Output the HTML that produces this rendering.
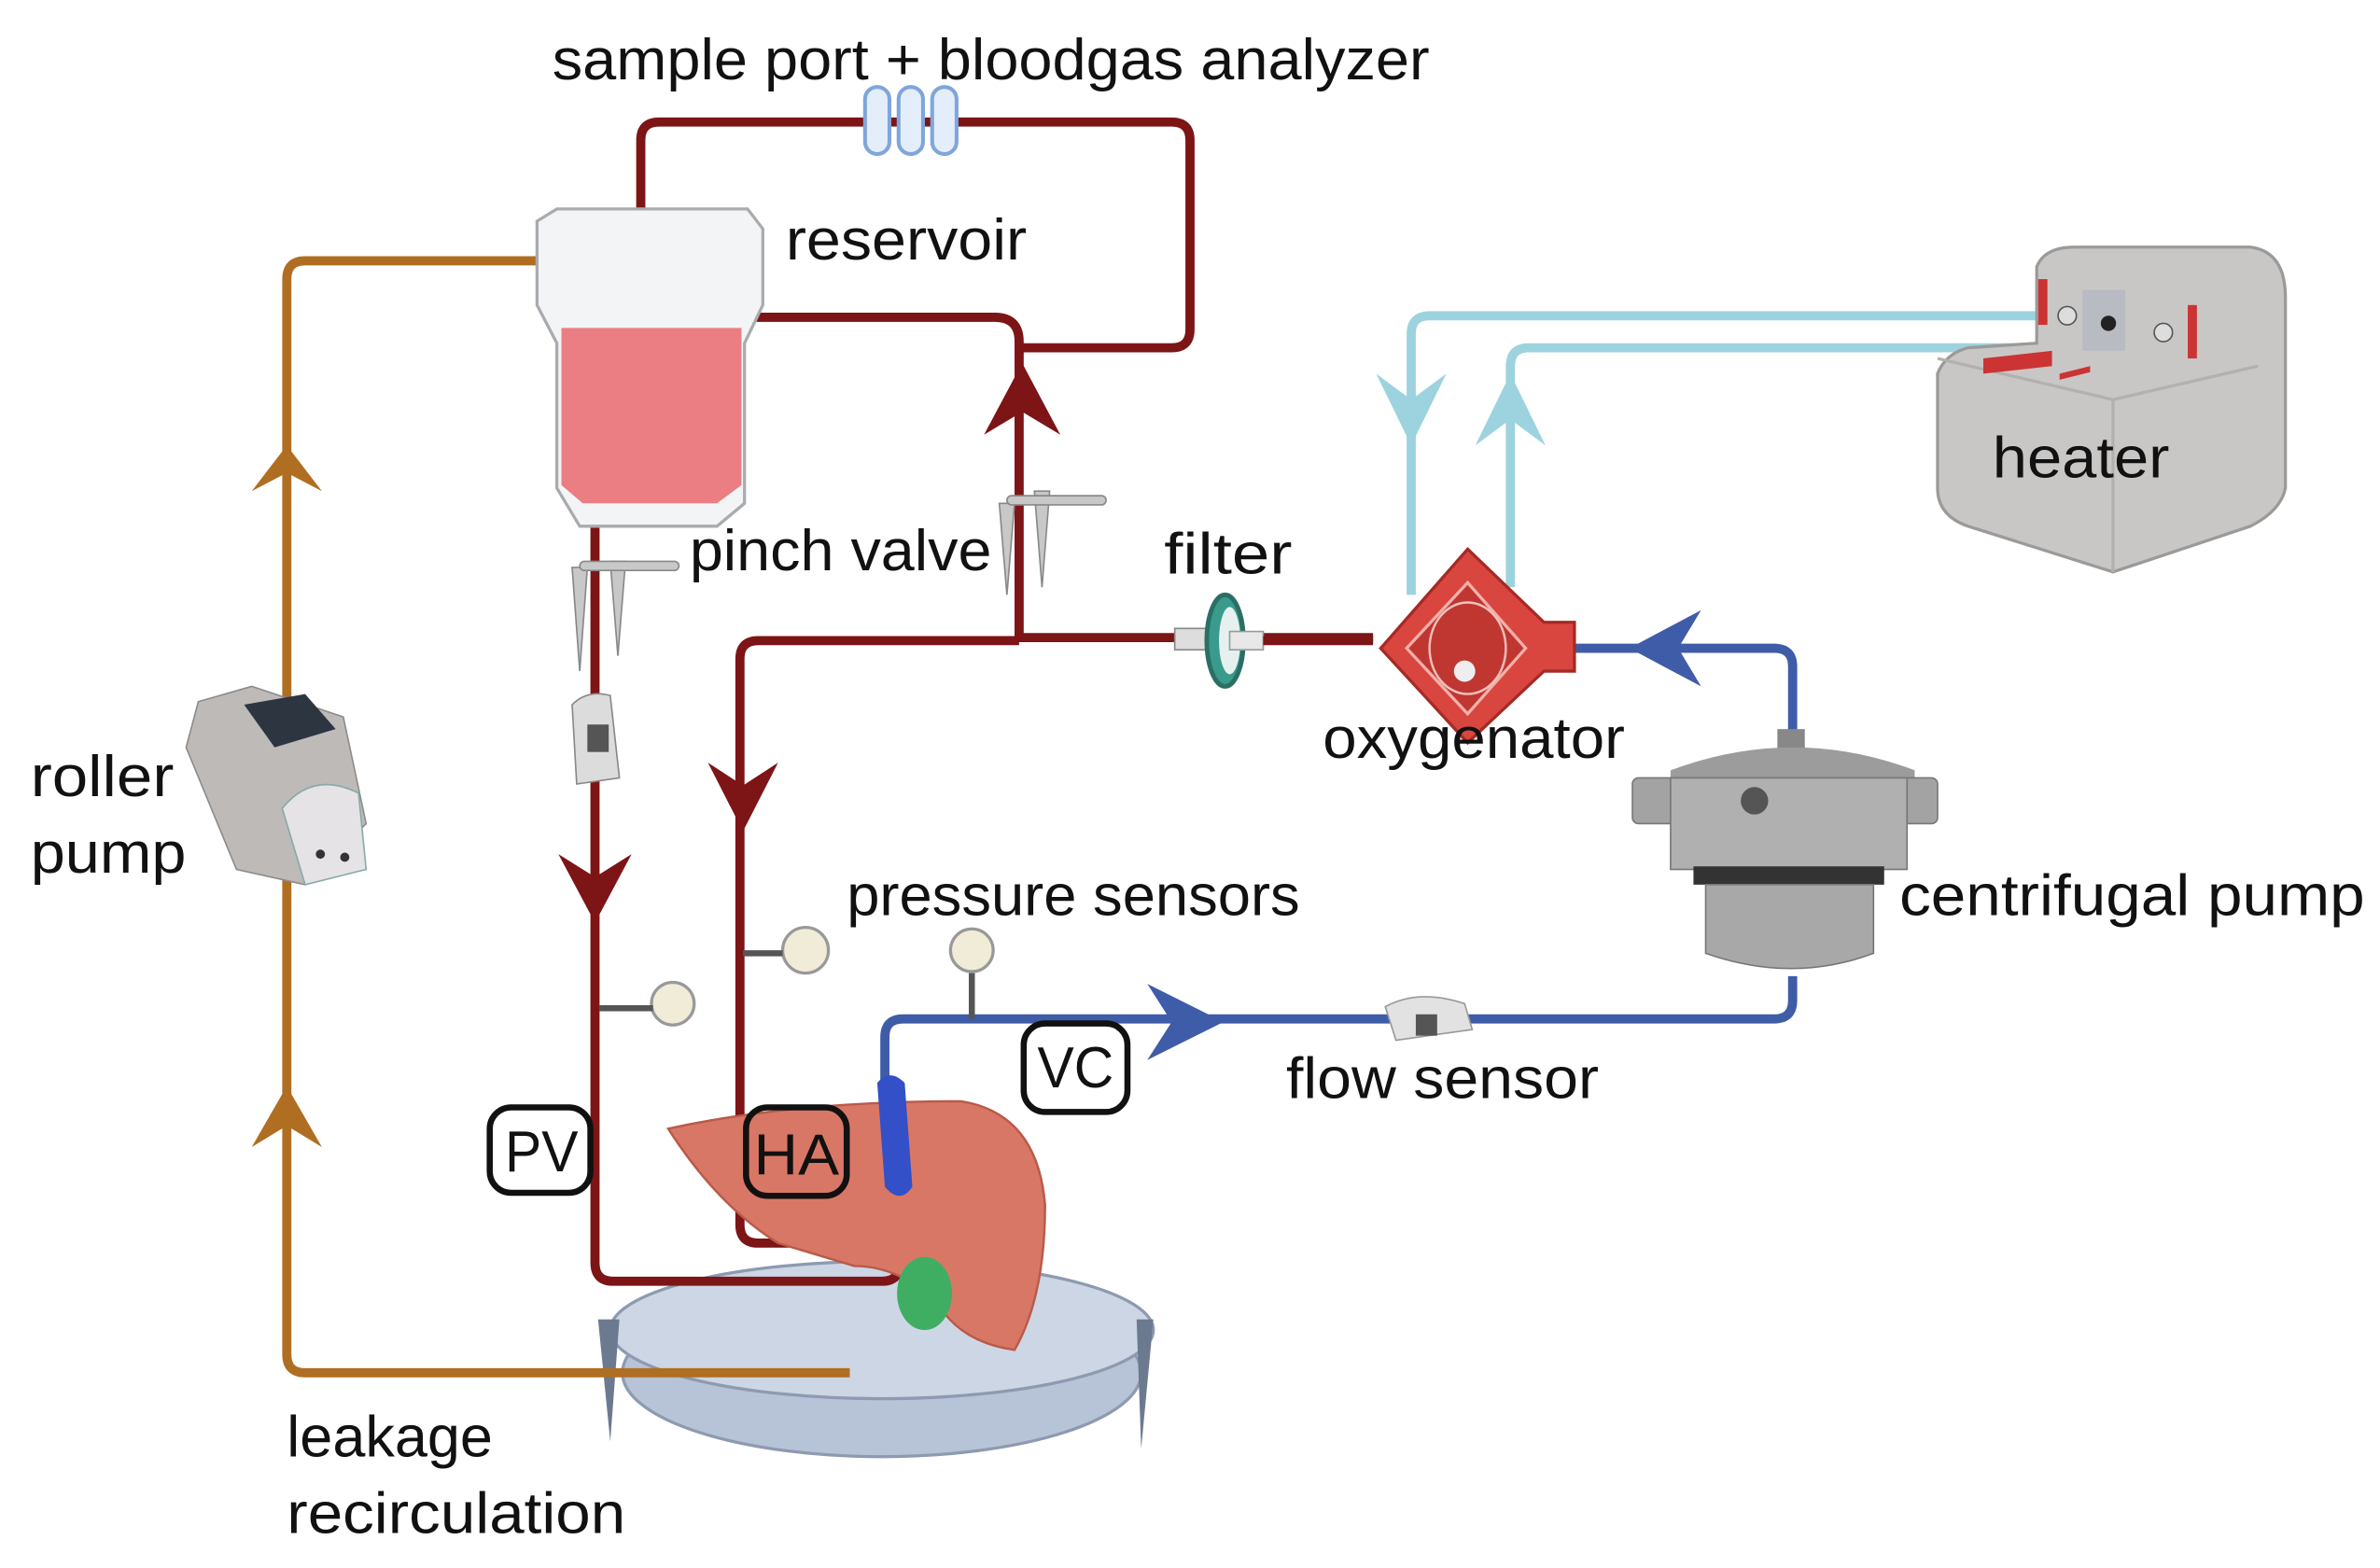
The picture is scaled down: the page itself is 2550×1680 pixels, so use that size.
<!DOCTYPE html>
<html><head><meta charset="utf-8"><style>
html,body{margin:0;padding:0;background:#fff}
svg{display:block}
text{font-family:"Liberation Sans",sans-serif;font-size:38px;fill:#111}
</style></head><body>
<svg width="2550" height="1680" viewBox="0 0 1560 1028" preserveAspectRatio="none" xmlns="http://www.w3.org/2000/svg">
<defs>
<linearGradient id="gr" x1="0" x2="1"><stop offset="0" stop-color="#c9c7c6"/><stop offset="1" stop-color="#a9a7a6"/></linearGradient>
</defs>
<!-- basin -->
<ellipse cx="578" cy="900" rx="170" ry="55" fill="#b7c3d6" stroke="#8d9ab0" stroke-width="2"/>
<ellipse cx="578" cy="872" rx="178" ry="45" fill="#cdd6e4" stroke="#8d9ab0" stroke-width="2"/>
<path d="M392 865 L400 945 L406 865Z M745 865 L748 950 L756 865Z" fill="#6c7a90"/>
<!-- orange line -->
<path d="M352 171 H200 Q188 171 188 183 V888 Q188 900 200 900 H557" fill="none" stroke="#b06e22" stroke-width="6"/>
<path d="M188 292 L165 322 L188 310 L211 322Z M188 712 L165 752 L188 738 L211 752Z" fill="#b06e22"/>
<!-- light blue -->
<path d="M1350 207 H937 Q925 207 925 219 V390" fill="none" stroke="#9dd3de" stroke-width="6"/>
<path d="M1420 228 H1002 Q990 228 990 240 V385" fill="none" stroke="#9dd3de" stroke-width="6"/>
<path d="M925 292 L902 245 L925 262 L948 245Z M990 245 L967 292 L990 275 L1013 292Z" fill="#9dd3de"/>
<!-- dark red -->
<g fill="none" stroke="#7d1416" stroke-width="6">
<path d="M420 140 V92 Q420 80 432 80 H768 Q780 80 780 92 V216 Q780 228 768 228 H668"/>
<path d="M490 208 H652 Q668 208 668 224 V418 H900"/>
<path d="M668 420 H497 Q485 420 485 432 V803 Q485 815 497 815 H548"/>
<path d="M390 340 V828 Q390 840 402 840 H578 Q590 840 590 828 V810"/>
</g>
<path d="M670 238 L645 285 L670 270 L695 285Z M487 545 L464 500 L487 515 L510 500Z M390 605 L366 560 L390 575 L414 560Z" fill="#7d1416"/>
<!-- blue -->
<g fill="none" stroke="#3f5ca8" stroke-width="6">
<path d="M1030 425 H1163 Q1175 425 1175 437 V485"/>
<path d="M1175 640 V656 Q1175 668 1163 668 H592 Q580 668 580 680 V712"/>
</g>
<path d="M1068 425 L1115 400 L1100 425 L1115 450Z M802 670 L752 645 L768 670 L752 695Z" fill="#3f5ca8"/>
<!-- sample port -->
<g fill="#e4eefa" stroke="#7fa6db" stroke-width="2.5"><rect x="567" y="57" width="16" height="44" rx="8"/><rect x="589" y="57" width="16" height="44" rx="8"/><rect x="611" y="57" width="16" height="44" rx="8"/></g>
<!-- reservoir -->
<path d="M352 145 L365 137 H490 L500 150 V200 L488 225 V330 L470 345 H380 L365 320 V225 L352 200Z" fill="#f3f4f5" stroke="#a9abae" stroke-width="2"/>
<path d="M368 215 H486 V318 L470 330 H382 L368 318Z" fill="#e8696f" opacity="0.85"/>
<!-- pinch valves -->
<g fill="#c8c8c8" stroke="#888" stroke-width="1"><path d="M375 372 L385 372 L380 440Z M400 368 L410 368 L405 430Z"/><rect x="380" y="368" width="65" height="6" rx="3"/>
<path d="M655 330 L665 330 L660 390Z M678 322 L688 322 L683 385Z"/><rect x="660" y="325" width="65" height="6" rx="3"/></g>
<!-- clamp sensor on PV -->
<path d="M375 462 Q385 452 400 456 L406 510 L378 514Z" fill="#dcdcdc" stroke="#888"/>
<rect x="385" y="475" width="14" height="18" fill="#555"/>
<!-- filter -->
<rect x="770" y="412" width="40" height="14" fill="#ddd" stroke="#888"/>
<ellipse cx="803" cy="420" rx="12" ry="30" fill="#3a9a8c" stroke="#2a6f64" stroke-width="3"/>
<ellipse cx="806" cy="420" rx="7" ry="22" fill="#e6f0ee"/>
<rect x="806" y="414" width="22" height="12" fill="#e8e8e8" stroke="#999"/>
<line x1="828" y1="420" x2="900" y2="420" stroke="#7d1416" stroke-width="6"/>
<!-- oxygenator -->
<path d="M962 360 L1012 408 L1032 408 V440 L1012 440 L962 487 L905 425Z" fill="#d9463f" stroke="#a52a25" stroke-width="2"/>
<path d="M962 382 L1000 425 L962 468 L922 425Z" fill="#c03732" stroke="#f2b0aa" stroke-width="2"/>
<ellipse cx="962" cy="425" rx="25" ry="30" fill="none" stroke="#f2c0ba" stroke-width="1.5"/>
<circle cx="960" cy="440" r="7" fill="#eee"/>
<!-- heater -->
<path d="M1335 175 Q1340 162 1360 162 H1475 Q1498 165 1498 195 V320 Q1495 335 1475 345 L1385 375 L1290 345 Q1270 338 1270 320 V245 Q1275 232 1290 228 L1335 225Z" fill="#c9c7c6" stroke="#9c9a99" stroke-width="2"/>
<path d="M1385 262 V375" stroke="#b3b1b0" stroke-width="2"/>
<path d="M1270 235 L1385 262 L1480 240" fill="none" stroke="#b3b1b0" stroke-width="2"/>
<rect x="1365" y="190" width="28" height="40" fill="#b8bcc2"/>
<circle cx="1382" cy="212" r="5" fill="#222"/>
<circle cx="1355" cy="207" r="6" fill="#ddd" stroke="#555"/>
<circle cx="1418" cy="218" r="6" fill="#ddd" stroke="#555"/>
<rect x="1336" y="183" width="6" height="30" fill="#cc3333"/><rect x="1434" y="200" width="6" height="35" fill="#cc3333"/>
<path d="M1300 235 L1345 230 L1345 240 L1300 245Z M1350 245 L1370 240 L1370 244 L1350 249Z" fill="#cc3333"/>
<!-- centrifugal pump -->
<rect x="1165" y="478" width="18" height="14" fill="#888"/>
<path d="M1095 505 Q1175 475 1255 505 V515 H1095Z" fill="#9c9c9c"/>
<rect x="1070" y="510" width="200" height="30" rx="4" fill="#a3a3a3" stroke="#777"/>
<rect x="1095" y="510" width="155" height="60" fill="#b0b0b0" stroke="#777"/>
<circle cx="1150" cy="525" r="9" fill="#555"/>
<rect x="1110" y="568" width="125" height="12" fill="#333"/>
<path d="M1118 580 H1228 V625 Q1175 645 1118 625Z" fill="#a8a8a8" stroke="#777"/>
<!-- roller pump -->
<path d="M130 460 L165 450 L225 470 L240 540 L200 580 L155 570 L122 490Z" fill="#bdbab8" stroke="#8e8c8b"/>
<path d="M160 462 L200 455 L220 478 L180 490Z" fill="#2d3541"/>
<path d="M185 530 Q205 505 235 520 L240 570 L200 580Z" fill="#e5e3e5" stroke="#8aa"/>
<circle cx="210" cy="560" r="3" fill="#333"/><circle cx="226" cy="562" r="3" fill="#333"/>
<!-- pressure gauges -->
<g fill="#f1ecd8" stroke="#999" stroke-width="2"><circle cx="441" cy="658" r="14"/><circle cx="528" cy="623" r="15"/><circle cx="637" cy="623" r="14"/></g>
<g stroke="#555" stroke-width="4"><line x1="393" y1="661" x2="428" y2="661"/><line x1="487" y1="625" x2="513" y2="625"/><line x1="637" y1="638" x2="637" y2="668"/></g>
<!-- flow sensor -->
<path d="M908 660 Q930 648 960 658 L965 675 L915 682Z" fill="#e2e2e2" stroke="#999"/>
<rect x="928" y="665" width="14" height="14" fill="#555"/>
<!-- liver -->
<path d="M438 740 Q520 722 630 722 Q680 730 685 790 Q685 850 665 885 Q630 880 615 855 Q590 830 560 830 L510 815 Q470 790 438 740Z" fill="#d97766" stroke="#b95a4a" stroke-width="1.5"/>
<path d="M575 710 Q583 700 593 710 L598 778 Q590 790 580 778Z" fill="#3350c8"/>
<ellipse cx="606" cy="848" rx="18" ry="24" fill="#3fae63"/>
<!-- label boxes -->
<g fill="#fff" fill-opacity="0" stroke="#111" stroke-width="4"><rect x="321" y="726" width="66" height="56" rx="14"/><rect x="489" y="726" width="66" height="58" rx="14"/><rect x="671" y="671" width="68" height="58" rx="14"/></g>
<text x="331" y="768" textLength="48" lengthAdjust="spacingAndGlyphs">PV</text>
<text x="494" y="770" textLength="56" lengthAdjust="spacingAndGlyphs">HA</text>
<text x="680" y="713" textLength="50" lengthAdjust="spacingAndGlyphs">VC</text>
<!-- labels -->
<text x="362" y="52" textLength="575" lengthAdjust="spacingAndGlyphs">sample port + bloodgas analyzer</text>
<text x="515" y="170" textLength="158" lengthAdjust="spacingAndGlyphs">reservoir</text>
<text x="452" y="374" textLength="198" lengthAdjust="spacingAndGlyphs">pinch valve</text>
<text x="763" y="376" textLength="84" lengthAdjust="spacingAndGlyphs">filter</text>
<text x="867" y="497" textLength="198" lengthAdjust="spacingAndGlyphs">oxygenator</text>
<text x="1306" y="313" textLength="116" lengthAdjust="spacingAndGlyphs">heater</text>
<text x="20" y="522" textLength="94" lengthAdjust="spacingAndGlyphs">roller</text>
<text x="20" y="572" textLength="102" lengthAdjust="spacingAndGlyphs">pump</text>
<text x="555" y="600" textLength="297" lengthAdjust="spacingAndGlyphs">pressure sensors</text>
<text x="1245" y="600" textLength="305" lengthAdjust="spacingAndGlyphs">centrifugal pump</text>
<text x="843" y="720" textLength="205" lengthAdjust="spacingAndGlyphs">flow sensor</text>
<text x="188" y="955" textLength="135" lengthAdjust="spacingAndGlyphs">leakage</text>
<text x="188" y="1005" textLength="222" lengthAdjust="spacingAndGlyphs">recirculation</text>
</svg>
</body></html>
